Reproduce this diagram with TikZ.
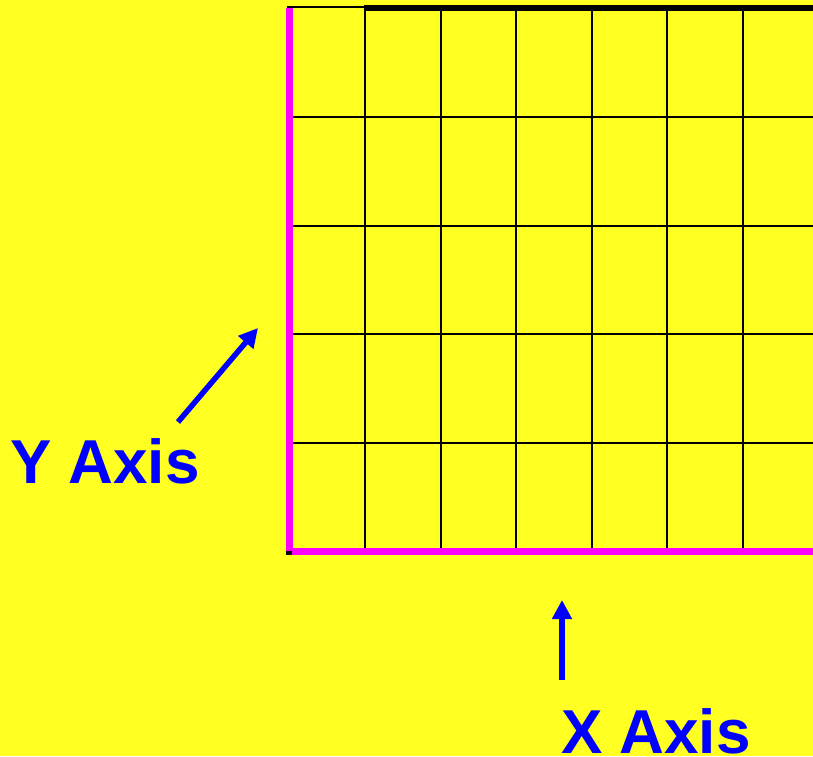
\documentclass[tikz,border=0pt]{standalone}
\usepackage{fontspec}
\setsansfont{Liberation Sans}
\usetikzlibrary{arrows.meta,positioning}
\definecolor{gridYellow}{HTML}{FFFF22}
\definecolor{gridInk}{HTML}{000000}
\definecolor{gridMagenta}{HTML}{FF00FF}
\definecolor{gridBlue}{HTML}{0000FF}
\tikzset{
  every picture/.style={font=\sffamily\bfseries, text=gridBlue},
  grid line/.style={draw=gridInk, line width=2.4pt},
  grid edge/.style={draw=gridInk, line width=6pt},
  axis line/.style={draw=gridMagenta, line width=6.5pt},
  axis label/.style={font=\sffamily\bfseries\fontsize{62}{68}\selectfont,
    anchor=base west, inner sep=0pt},
  pointer/.style={-{Triangle[length=19pt,width=19pt]},
    draw=gridBlue, fill=gridBlue, line width=5.5pt}
}
\begin{document}
\begin{tikzpicture}[x=1pt,y=-1pt]
  \fill[gridYellow] (0,0) rectangle (813,756);
  \useasboundingbox (0,0) rectangle (813,756);
  % grid
  \foreach \x in {365,441,516,592,667,743} {
    \draw[grid line] (\x,8) -- (\x,551);
  }
  \foreach \y in {117,226,334,443} {
    \draw[grid line] (289,\y) -- (813,\y);
  }
  \draw[grid line] (287,7) -- (365,7);
  \draw[grid edge] (364,8) -- (813,8);
  \fill[gridInk] (286,549) rectangle (292,555);
  \draw[axis line] (289.5,8) -- (289.5,551);
  \draw[axis line] (292,551.5) -- (813,551.5);
  % labels
  \node[axis label] (ylabel) at (10,483) {Y Axis};
  \node[axis label] (xlabel) at (561,753) {X Axis};
  \coordinate (ytail) at (178,422);
  \coordinate (ytip) at (258,328);
  \coordinate (xtail) at (562,680);
  \coordinate (xtip) at (562,600);
  \draw[pointer] (ytail) -- (ytip);
  \draw[pointer] (xtail) -- (xtip);
\end{tikzpicture}
\end{document}
